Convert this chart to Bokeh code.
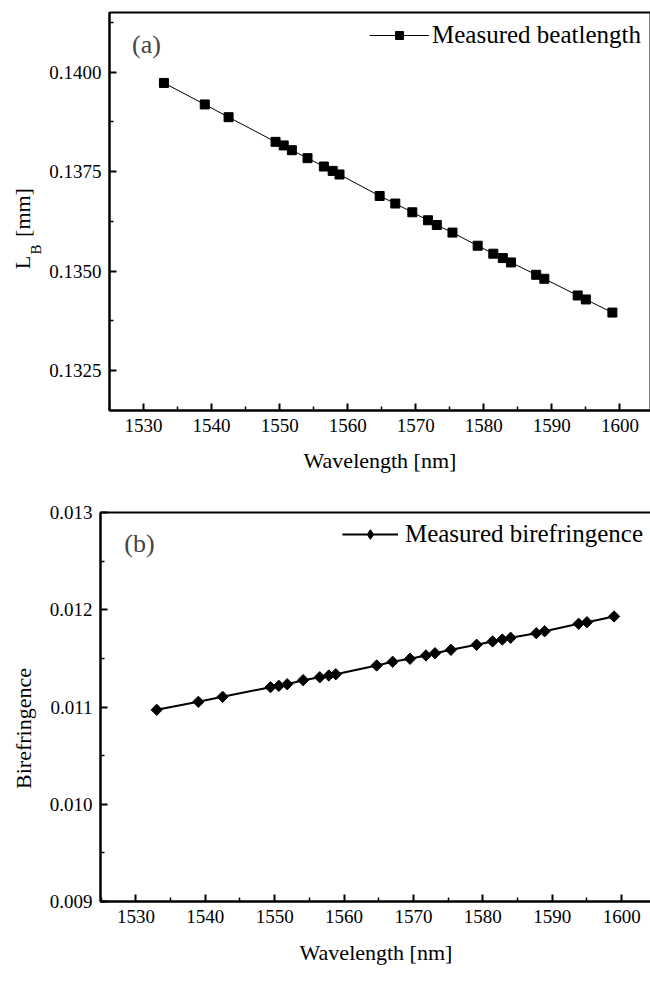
import numpy as np
from bokeh.plotting import figure
from bokeh.layouts import column, row
from bokeh.models import (FixedTicker, PrintfTickFormatter, Label, Legend,
                          LegendItem, Range1d)
from bokeh.core.properties import value
from bokeh.embed import file_html
from bokeh.resources import INLINE

# ---------------- data ----------------
wavelength = [1533.0, 1539.0, 1542.5, 1549.4, 1550.6, 1551.8, 1554.1, 1556.5,
              1557.8, 1558.8, 1564.7, 1567.0, 1569.5, 1571.8, 1573.1, 1575.4,
              1579.1, 1581.4, 1582.8, 1584.0, 1587.7, 1588.9, 1593.8, 1595.0,
              1598.9]
beatlength = [0.13973, 0.13919, 0.13887, 0.13825, 0.13816, 0.13804, 0.13784,
              0.13763, 0.13752, 0.13743, 0.13689, 0.13670, 0.13648, 0.13628,
              0.13616, 0.13597, 0.13564, 0.13544, 0.13533, 0.13522, 0.13491,
              0.13481, 0.13439, 0.13429, 0.13396]
birefringence = [0.010971, 0.011053, 0.011105, 0.011204, 0.011218, 0.011234,
                 0.011276, 0.011306, 0.011324, 0.011337, 0.011427, 0.011465,
                 0.011496, 0.011530, 0.011553, 0.011588, 0.011640, 0.011674,
                 0.011694, 0.011712, 0.011759, 0.011779, 0.011856, 0.011872,
                 0.011931]

x_major = [1530, 1540, 1550, 1560, 1570, 1580, 1590, 1600]
x_minor = [1525, 1535, 1545, 1555, 1565, 1575, 1585, 1595]
ya_major = [0.1325, 0.1350, 0.1375, 0.1400]
ya_minor = [0.13125, 0.13375, 0.13625, 0.13875, 0.14125]
yb_major = [0.009, 0.010, 0.011, 0.012, 0.013]
yb_minor = [0.0095, 0.0105, 0.0115, 0.0125]

FONT = "Liberation Serif"


def style(p):
    p.outline_line_color = "black"
    p.outline_line_width = 2
    p.xgrid.visible = False
    p.ygrid.visible = False
    p.background_fill_color = "white"
    p.border_fill_color = "white"
    for ax in p.axis:
        ax.axis_line_width = 2
        ax.axis_line_color = "black"
        ax.major_tick_in = 7
        ax.major_tick_out = 0
        ax.minor_tick_in = 4
        ax.minor_tick_out = 0
        ax.major_tick_line_width = 2
        ax.minor_tick_line_width = 1.5
        ax.major_tick_line_color = "black"
        ax.minor_tick_line_color = "black"
        ax.major_label_text_font = FONT
        ax.major_label_text_font_size = "19px"
        ax.major_label_text_color = "black"
        ax.major_label_standoff = 8
        ax.axis_label_text_font = FONT
        ax.axis_label_text_font_size = "22px"
        ax.axis_label_text_font_style = "normal"
        ax.axis_label_text_color = "black"


def label_fig(top, frame_h, bottom, page_top):
    # frame aligned with the neighbouring plot's frame; y in page pixels
    f = figure(frame_width=46, frame_height=frame_h, min_border_top=top,
               min_border_bottom=bottom, min_border_left=0, min_border_right=0,
               x_range=Range1d(0, 46),
               y_range=Range1d(page_top + frame_h, page_top),
               x_axis_location=None, y_axis_location=None,
               output_backend="svg", toolbar_location=None)
    f.outline_line_color = None
    f.xgrid.visible = False
    f.ygrid.visible = False
    return f


def vtext(f, x, y, t, size):
    f.text(x=[x], y=[y], text=[t], angle=np.pi / 2, text_font=value(FONT),
           text_font_size=value(size), text_align="center",
           text_baseline="middle", text_color="black")


# ---------------- top panel (a) ----------------
p1 = figure(frame_width=541, frame_height=398, min_border_top=12,
            min_border_left=62, min_border_right=1, min_border_bottom=65,
            x_range=Range1d(1525, 1604.5), y_range=Range1d(0.1315, 0.1415),
            output_backend="svg", toolbar_location=None)
style(p1)
p1.xaxis.ticker = FixedTicker(ticks=x_major, minor_ticks=x_minor)
p1.yaxis.ticker = FixedTicker(ticks=ya_major, minor_ticks=ya_minor)
p1.yaxis.formatter = PrintfTickFormatter(format="%.4f")
p1.xaxis.axis_label = "Wavelength [nm]"
p1.xaxis.axis_label_standoff = 13

l1 = p1.line(wavelength, beatlength, line_color="black", line_width=1)
s1 = p1.scatter(wavelength, beatlength, marker="square", size=9,
                fill_color="black", line_color="black")

leg1 = Legend(items=[LegendItem(label="Measured beatlength", renderers=[l1, s1])],
              location="top_right", glyph_width=60, glyph_height=20,
              label_text_font=FONT, label_text_font_size="25px",
              label_text_color="black",
              border_line_alpha=0, background_fill_alpha=0, padding=0,
              margin=9, label_standoff=3, spacing=0)
p1.add_layout(leg1)

p1.add_layout(Label(x=37, y=366, x_units="screen", y_units="screen", text="(a)",
                    text_font=FONT, text_font_size="26px", text_align="center",
                    text_baseline="middle"))

lab1 = label_fig(12, 398, 65, 12)
vtext(lab1, 22, 262, "L", "22px")
vtext(lab1, 35, 249, "B", "15px")
vtext(lab1, 22, 212, "[mm]", "22px")

# ---------------- bottom panel (b) ----------------
p2 = figure(frame_width=551, frame_height=389, min_border_top=37,
            min_border_left=52, min_border_right=1, min_border_bottom=84,
            x_range=Range1d(1524.9, 1604.3), y_range=Range1d(0.009, 0.013),
            output_backend="svg", toolbar_location=None)
style(p2)
p2.xaxis.ticker = FixedTicker(ticks=x_major, minor_ticks=x_minor)
p2.yaxis.ticker = FixedTicker(ticks=yb_major, minor_ticks=yb_minor)
p2.yaxis.formatter = PrintfTickFormatter(format="%.3f")
p2.xaxis.axis_label = "Wavelength [nm]"
p2.xaxis.axis_label_standoff = 14

l2 = p2.line(wavelength, birefringence, line_color="black", line_width=2)
s2 = p2.scatter(wavelength, birefringence, marker="square", angle=np.pi / 4,
                size=8, fill_color="black", line_color="black")
# legend-only diamond symbol (zero size in the plot; legend sets its own size)
d2 = p2.scatter(wavelength, birefringence, marker="diamond", size=0,
                fill_color="black", line_color="black")

leg2 = Legend(items=[LegendItem(label="Measured birefringence", renderers=[l2, d2])],
              location="top_right", glyph_width=56, glyph_height=24,
              label_text_font=FONT, label_text_font_size="25px",
              label_text_color="black",
              border_line_alpha=0, background_fill_alpha=0, padding=0,
              margin=8, label_standoff=7, spacing=0)
p2.add_layout(leg2)

p2.add_layout(Label(x=39, y=358, x_units="screen", y_units="screen", text="(b)",
                    text_font=FONT, text_font_size="26px", text_align="center",
                    text_baseline="middle"))

lab2 = label_fig(37, 389, 84, 512)
vtext(lab2, 23, 728, "Birefringence", "22px")

layout = column(row(lab1, p1, spacing=0), row(lab2, p2, spacing=0), spacing=0)
open("out.html", "w").write(file_html(layout, INLINE))
